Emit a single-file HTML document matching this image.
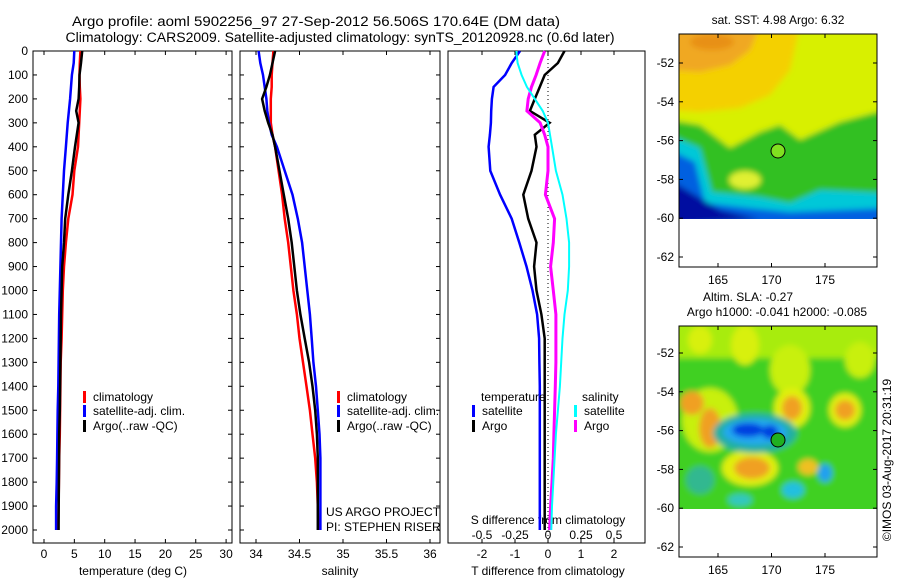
<!DOCTYPE html>
<html><head><meta charset="utf-8"><style>
body{margin:0;background:#fff}
svg{display:block;font-family:"Liberation Sans",sans-serif;font-size:12px}
</style></head><body>
<svg id="c" width="900" height="580" viewBox="0 0 900 580">
<defs><filter id="bl" x="-20%" y="-20%" width="140%" height="140%"><feGaussianBlur stdDeviation="3"/></filter>
<clipPath id="m1"><rect x="679" y="34" width="198" height="185"/></clipPath>
<clipPath id="m2"><rect x="679" y="326" width="198" height="183"/></clipPath></defs>
<text x="316" y="26" text-anchor="middle" font-size="13.5" textLength="488" lengthAdjust="spacingAndGlyphs">Argo profile: aoml 5902256_97 27-Sep-2012 56.506S 170.64E (DM data)</text>
<text x="340" y="42" text-anchor="middle" font-size="13.5" textLength="549" lengthAdjust="spacingAndGlyphs">Climatology: CARS2009. Satellite-adjusted climatology: synTS_20120928.nc (0.6d later)</text>

<g>
<text x="778" y="24" text-anchor="middle">sat. SST: 4.98 Argo: 6.32</text>
<g clip-path="url(#m1)" filter="url(#bl)">
<rect x="670" y="25" width="215" height="200" fill="#30c020"/>
<polygon fill="#d8f000" points="670,25 885,25 885,110 840,122 800,140 780,125 760,132 730,148 700,125 670,120"/>
<polygon fill="#f4d000" points="670,25 800,25 790,70 770,95 740,108 700,112 670,110"/>
<polygon fill="#f0a820" points="670,25 760,25 750,50 730,65 700,72 670,70"/>
<ellipse cx="712" cy="42" rx="22" ry="8" fill="#e89018"/>
<ellipse cx="745" cy="180" rx="16" ry="9" fill="#e0f030"/>
<polygon fill="#00c8d8" points="670,135 700,148 712,192 760,197 790,203 820,190 885,193 885,225 670,225"/>
<polygon fill="#0060e0" points="670,150 695,162 705,203 750,208 790,212 885,208 885,225 670,225"/>
<polygon fill="#0010a0" points="670,180 700,198 720,210 760,219 670,225"/>
</g>
<rect x="679" y="219" width="198" height="48" fill="#fff"/>
<circle cx="778" cy="151" r="7" fill="#80e020" stroke="#000"/>
<rect x="679" y="34" width="198" height="233" fill="none" stroke="#000"/>
</g>
<g>
<text x="748" y="301" text-anchor="middle">Altim. SLA: -0.27</text>
<text x="777" y="316" text-anchor="middle">Argo h1000: -0.041 h2000: -0.085</text>
<g clip-path="url(#m2)" filter="url(#bl)">
<rect x="670" y="318" width="215" height="200" fill="#40d020"/>
<rect x="670" y="318" width="215" height="40" fill="#a8ec10"/>
<ellipse cx="700" cy="340" rx="12" ry="14" fill="#d8f010"/><ellipse cx="745" cy="345" rx="14" ry="20" fill="#d8f010"/>
<ellipse cx="790" cy="370" rx="20" ry="25" fill="#c8f010"/><ellipse cx="860" cy="360" rx="15" ry="18" fill="#c8f010"/>
<ellipse cx="710" cy="420" rx="28" ry="32" fill="#c8f010"/>
<ellipse cx="692" cy="403" rx="12" ry="12" fill="#f0a020"/><ellipse cx="710" cy="428" rx="11" ry="20" fill="#f0a020"/>
<ellipse cx="750" cy="468" rx="28" ry="18" fill="#e0f010"/><ellipse cx="752" cy="468" rx="18" ry="11" fill="#f0a020"/>
<ellipse cx="792" cy="408" rx="18" ry="20" fill="#e0f010"/><ellipse cx="792" cy="408" rx="10" ry="12" fill="#f0a020"/>
<ellipse cx="845" cy="410" rx="16" ry="17" fill="#e0f010"/><ellipse cx="845" cy="410" rx="10" ry="10" fill="#f0a020"/>
<ellipse cx="808" cy="467" rx="10" ry="8" fill="#f0c020"/>
<ellipse cx="755" cy="433" rx="42" ry="20" fill="#20b0a0"/>
<ellipse cx="755" cy="432" rx="32" ry="13" fill="#20a8f0"/>
<ellipse cx="748" cy="430" rx="16" ry="7" fill="#0040e0"/><ellipse cx="770" cy="432" rx="8" ry="7" fill="#0040e0"/>
<ellipse cx="825" cy="473" rx="7" ry="9" fill="#20a0f0"/><ellipse cx="793" cy="490" rx="11" ry="8" fill="#20c0e0"/>
<ellipse cx="740" cy="500" rx="12" ry="6" fill="#30c8c0"/><ellipse cx="700" cy="480" rx="14" ry="14" fill="#30b890"/>
</g>
<rect x="679" y="509" width="198" height="48" fill="#fff"/>
<circle cx="778" cy="440" r="7" fill="#20b020" stroke="#000"/>
<rect x="679" y="326" width="198" height="231" fill="none" stroke="#000"/>
</g>
<text transform="translate(891,460) rotate(-90)" text-anchor="middle">©IMOS 03-Aug-2017 20:31:19</text>
<g id="dyn"></g>
</svg>
<script>
const depths=[0,50,100,150,200,250,300,350,400,500,600,700,800,900,1000,1100,1200,1300,1400,1500,1600,1700,1800,1900,2000];
const tempClim=[6.0,5.9,5.85,5.9,6.0,5.9,5.8,5.7,5.6,5.0,4.7,4.0,3.6,3.3,3.1,3.0,2.9,2.75,2.7,2.65,2.6,2.5,2.45,2.4,2.3];
const tempSat=[5.0,4.9,4.6,4.45,4.3,4.1,3.9,3.75,3.6,3.3,3.1,2.9,2.8,2.7,2.6,2.5,2.45,2.4,2.35,2.25,2.2,2.15,2.1,2.0,2.0];
const tempArgo=[6.3,6.1,5.85,5.8,5.7,5.3,5.7,5.4,5.1,4.6,4.0,3.5,3.3,3.0,2.9,2.8,2.75,2.7,2.65,2.6,2.5,2.48,2.45,2.42,2.4];
const salClim=[34.2,34.19,34.18,34.18,34.17,34.17,34.17,34.19,34.22,34.26,34.3,34.33,34.37,34.4,34.43,34.47,34.5,34.54,34.58,34.62,34.65,34.68,34.7,34.71,34.72];
const salSat=[34.03,34.05,34.08,34.1,34.12,34.13,34.15,34.18,34.24,34.33,34.42,34.48,34.53,34.56,34.59,34.62,34.64,34.66,34.69,34.71,34.73,34.74,34.74,34.74,34.74];
const salArgo=[34.22,34.19,34.16,34.12,34.07,34.1,34.14,34.19,34.22,34.27,34.32,34.37,34.41,34.44,34.47,34.51,34.56,34.61,34.65,34.68,34.7,34.71,34.71,34.71,34.71];
const tdiffSat=[-0.85,-1.1,-1.3,-1.65,-1.7,-1.72,-1.73,-1.76,-1.8,-1.75,-1.45,-1.1,-0.87,-0.65,-0.47,-0.33,-0.27,-0.26,-0.25,-0.25,-0.25,-0.25,-0.25,-0.25,-0.25];
const tdiffArgo=[0.5,0.3,-0.1,-0.25,-0.4,-0.55,0.05,-0.4,-0.35,-0.5,-0.75,-0.6,-0.35,-0.42,-0.35,-0.2,-0.1,-0.1,-0.1,-0.1,-0.1,-0.1,-0.1,-0.1,-0.1];
const sdiffArgo=[-0.025,-0.06,-0.09,-0.125,-0.15,-0.16,-0.06,-0.025,0,0,-0.02,0.05,0.04,0.02,0.04,0.06,0.06,0.06,0.055,0.05,0.045,0.04,0.03,0.02,0.012];
const sdiffSat=[-0.24,-0.23,-0.2,-0.16,-0.1,-0.04,0,0.015,0.03,0.06,0.11,0.14,0.16,0.16,0.15,0.125,0.11,0.1,0.09,0.075,0.06,0.05,0.04,0.03,0.025];
const depthTicks=[0,100,200,300,400,500,600,700,800,900,1000,1100,1200,1300,1400,1500,1600,1700,1800,1900,2000];
const tempTicks=[0,5,10,15,20,25,30];
const salTicks=[34,34.5,35,35.5,36];
const tdTicks=[-2,-1,0,1,2];
const sdTicks=["-0.5","-0.25","0","0.25","0.5"];
const latTicks=[-52,-54,-56,-58,-60,-62];
const lonTicks=[165,170,175];

const NS='http://www.w3.org/2000/svg';
const g=document.getElementById('dyn');
function mk(t,a,p){const e=document.createElementNS(NS,t);for(const k in a)e.setAttribute(k,a[k]);(p||g).appendChild(e);return e;}
const pTop=51,pBot=543;
const yD=d=>51+d*0.2395;
const xT=v=>44+v*6.07;
const xS=v=>256+(v-34)*87;
const xTD=v=>548+v*33;
const xSD=v=>548+v*4*33;
function panel(x0,x1,name){
  const r=mk('rect',{x:x0,y:pTop,width:x1-x0,height:pBot-pTop,fill:'none',stroke:'#000'});
  
  
}
panel(33,232,'temperature-panel-frame');panel(240,440,'salinity-panel-frame');panel(448,645,'difference-panel-frame');
function lbl(x,y,s,name,anchor){const t=mk('text',{x:x,y:y,'text-anchor':anchor||'middle'});t.textContent=s;
  
  return t;}
depthTicks.forEach(d=>{
  const y=yD(d);
  [[33,232],[240,440]].forEach(([a,b])=>{mk('line',{x1:a,y1:y,x2:a+4,y2:y,stroke:'#000'});mk('line',{x1:b,y1:y,x2:b-4,y2:y,stroke:'#000'});});
  lbl(28,y+4,String(d),'depth-tick-label','end');
});
function xticks(vals,fx,y0,name){
  vals.forEach(v=>{const x=fx(v);mk('line',{x1:x,y1:pBot,x2:x,y2:pBot-4,stroke:'#000'});mk('line',{x1:x,y1:pTop,x2:x,y2:pTop+4,stroke:'#000'});
  lbl(x,y0,String(v),name);});
}
xticks(tempTicks,xT,558,'temperature-tick-label');
xticks(salTicks,xS,558,'salinity-tick-label');
xticks(tdTicks,xTD,558,'t-difference-tick-label');
lbl(133,575,'temperature (deg C)','temperature-axis-title');
lbl(340,575,'salinity','salinity-axis-title');
lbl(548,575,'T difference from climatology','t-difference-axis-title');
lbl(548,524,'S difference from climatology','s-difference-axis-title');
sdTicks.forEach(s=>{lbl(xSD(parseFloat(s)),539,s,'s-difference-tick-label');});
mk('line',{x1:548,y1:pTop,x2:548,y2:pBot,stroke:'#000','stroke-dasharray':'1,3'});
function series(vals,fx,color,name,w){
  let d='';vals.forEach((v,i)=>{d+=(i?'L':'M')+fx(v).toFixed(1)+','+yD(depths[i]).toFixed(1);});
  const p=mk('path',{d:d,fill:'none',stroke:color,'stroke-width':w||2.5});
  
  
}
series(tempClim,xT,'#f00','temperature-climatology-line');
series(tempSat,xT,'#00f','temperature-satellite-line');
series(tempArgo,xT,'#000','temperature-argo-line');
series(salClim,xS,'#f00','salinity-climatology-line');
series(salSat,xS,'#00f','salinity-satellite-line');
series(salArgo,xS,'#000','salinity-argo-line');
series(tdiffSat,xTD,'#00f','t-diff-satellite-line');
series(tdiffArgo,xTD,'#000','t-diff-argo-line');
series(sdiffArgo,xSD,'#f0f','s-diff-argo-line',3);
series(sdiffSat,xSD,'#0ff','s-diff-satellite-line',2);
function leg(x,y,c,s,name){const r=mk('rect',{x:x,y:y-10,width:3,height:12,fill:c});
  
  
  lbl(x+10,y,s,name,'start');}
[83,337].forEach(x=>{leg(x,401,'#f00','climatology','legend-climatology');leg(x,415,'#00f','satellite-adj. clim.','legend-satellite-adj');leg(x,430,'#000','Argo(..raw -QC)','legend-argo');});
lbl(481,401,'temperature','legend-temperature-header','start');
leg(472,415,'#00f','satellite','legend-t-satellite');leg(472,430,'#000','Argo','legend-t-argo');
lbl(582,401,'salinity','legend-salinity-header','start');
leg(574,415,'#0ff','satellite','legend-s-satellite');leg(574,430,'#f0f','Argo','legend-s-argo');
lbl(326,516,'US ARGO PROJECT','project-label','start');
lbl(326,531,'PI: STEPHEN RISER','pi-label','start');
function mapAxes(y0,yb,lat52){
  latTicks.forEach(l=>{const y=lat52+(-52-l)*19.4;mk('line',{x1:679,y1:y,x2:683,y2:y,stroke:'#000'});mk('line',{x1:877,y1:y,x2:873,y2:y,stroke:'#000'});
    lbl(674,y+4,String(l),'latitude-tick-label','end');});
  lonTicks.forEach(l=>{const x=718+(l-165)*10.7;mk('line',{x1:x,y1:y0,x2:x,y2:y0+4,stroke:'#000'});mk('line',{x1:x,y1:yb,x2:x,y2:yb-4,stroke:'#000'});
    lbl(x,yb+17,String(l),'longitude-tick-label');});
}
mapAxes(34,267,63);mapAxes(326,557,353);
</script>
</body></html>
